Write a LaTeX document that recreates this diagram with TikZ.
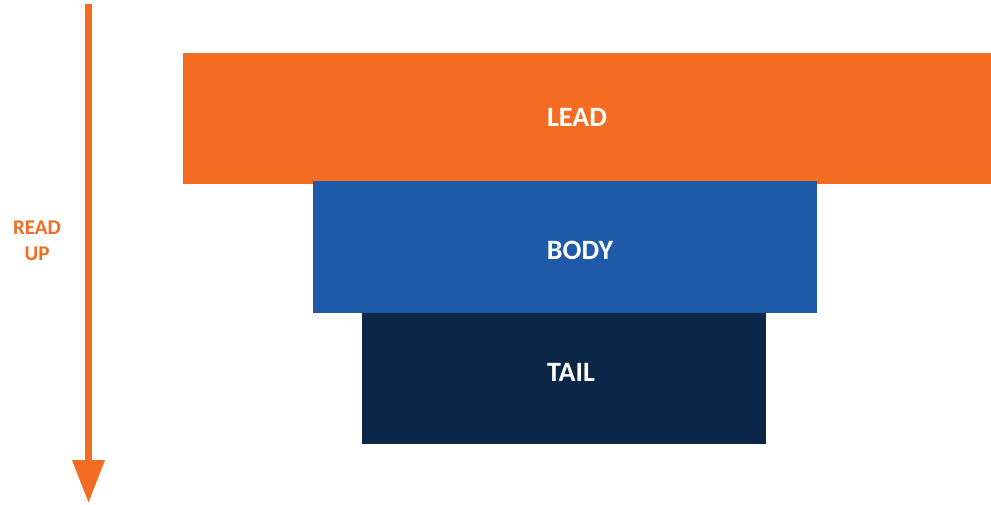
\documentclass[tikz,border=0pt]{standalone}
\usepackage{fontspec}
\setmainfont{Carlito}
\usetikzlibrary{arrows.meta}
\definecolor{leadorange}{HTML}{F36C21}
\definecolor{bodyblue}{HTML}{1F5AA8}
\definecolor{tailnavy}{HTML}{0C2647}
\begin{document}
\begin{tikzpicture}[x=1pt,y=-1pt,
  block/.style={anchor=north west, inner sep=0pt, outer sep=0pt, draw=none},
  blocktext/.style={text=white, font=\fontsize{28}{32}\selectfont\bfseries},
  readlabel/.style={text=leadorange, align=center, font=\fontsize{21}{26}\selectfont\bfseries}]
\useasboundingbox (0,0) rectangle (991,504);
\fill[white] (0,0) rectangle (991,504);
% boxes
\node[block, fill=leadorange, minimum width=808, minimum height=131] (lead) at (183,53) {};
\node[block, fill=tailnavy, minimum width=404, minimum height=131] (tail) at (362,313) {};
\node[block, fill=bodyblue, minimum width=504, minimum height=132] (body) at (313,181) {};
\node[blocktext] (leadtxt) at (577,117) {LEAD};
\node[blocktext] (bodytxt) at (580,250) {BODY};
\node[blocktext] (tailtxt) at (571,372) {TAIL};
% arrow
\coordinate (atop) at (88.5,4);
\coordinate (atip) at (88.5,503);
\draw[leadorange, line width=7, -{Triangle[width=31pt,length=43pt]}] (atop) -- (atip);
\node[readlabel] (read) at (37,241) {READ\\UP};
\end{tikzpicture}
\end{document}
